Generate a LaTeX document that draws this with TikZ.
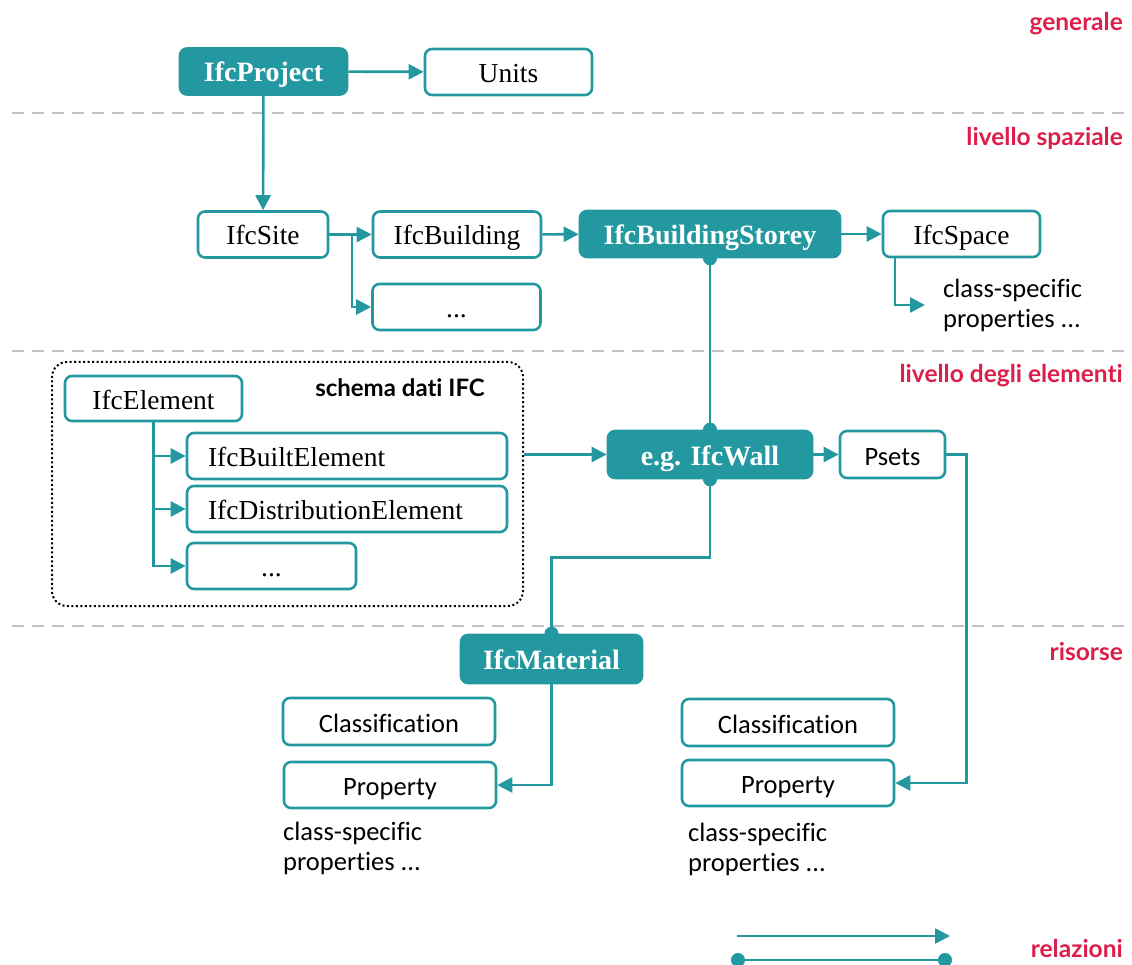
\documentclass[tikz,border=0pt]{standalone}
\usepackage{fontspec}
\setmainfont{Liberation Serif}
\newfontfamily\carlito[RawFeature={-liga;-calt;-clig}]{Carlito}
\newfontfamily\lato[RawFeature={-liga;-calt;-clig}]{Lato}
\usetikzlibrary{arrows.meta}

\definecolor{ifcteal}{RGB}{35,152,160}
\definecolor{lvlred}{RGB}{220,30,75}
\definecolor{sepgray}{RGB}{192,192,192}

\tikzset{
  cls/.style={draw=ifcteal, line width=2.6pt, rounded corners=7pt, fill=white, minimum height=46pt, inner sep=0pt, text height=22pt, text depth=1pt, font=\fontsize{27.5}{32}\selectfont},
  key/.style={cls, fill=ifcteal, text=white, font=\fontsize{28}{32}\selectfont\bfseries},
  res/.style={cls, font=\carlito\fontsize{26.5}{30}\selectfont},
  note/.style={anchor=west, align=left, inner sep=0pt, font=\carlito\fontsize{26.5}{30}\selectfont},
  level/.style={anchor=east, inner sep=0pt, text=lvlred, font=\lato\bfseries\fontsize{24.5}{28}\selectfont},
  rel/.style={draw=ifcteal, line width=2.6pt, -{Triangle[length=15pt,width=15pt]}},
  link/.style={draw=ifcteal, line width=2.6pt, {Circle[length=14pt]}-{Circle[length=14pt]}, shorten <=-7pt, shorten >=-7pt},
  sep/.style={draw=sepgray, line width=2.5pt, dash pattern=on 12pt off 8pt},
}

\begin{document}
\begin{tikzpicture}[x=1pt,y=-1pt]
\useasboundingbox (0,0) rectangle (1132,965);

\draw[sep] (12,113) -- (1125,113);
\draw[sep] (12,351) -- (1125,351);
\draw[sep] (12,626) -- (1125,626);

\node[level] (lgen) at (1123,24) {generale};
\node[level] (lspa) at (1123,138) {livello spaziale};
\node[level] (lele) at (1123,376) {livello degli elementi};
\node[level] (lris) at (1123,652) {risorse};
\node[level] (lrel) at (1123,948) {relazioni};

\node[key, minimum width=167pt] (project) at (263.5,71.5) {IfcProject};
\node[cls, minimum width=167pt] (units) at (508.5,72) {Units};

\node[cls, minimum width=130pt] (site) at (263,234.5) {IfcSite};
\node[cls, minimum width=168pt] (building) at (457,234.5) {IfcBuilding};
\node[cls, minimum width=168pt] (sitemore) at (456.5,307) {...};
\node[key, minimum width=260pt] (storey) at (710,234) {IfcBuildingStorey};
\node[cls, minimum width=157pt] (space) at (961.5,234) {IfcSpace};
\node[note] (spacenote) at (943,305) {class-specific\\properties ...};

\node[draw, line width=2pt, dash pattern=on 2pt off 2.5pt, rounded corners=15pt, minimum width=471pt, minimum height=244pt] (schema) at (287.5,484) {};
\node[font=\lato\bfseries\fontsize{24}{28}\selectfont] (schemalabel) at (400,388) {schema dati IFC};
\node[cls, minimum width=177pt, minimum height=45pt] (element) at (153.5,398.5) {IfcElement};
\node[cls, minimum width=320pt, text width=278pt, align=left] (built) at (347,456) {IfcBuiltElement};
\node[cls, minimum width=320pt, text width=278pt, align=left] (distrib) at (347,509) {IfcDistributionElement};
\node[cls, minimum width=169pt] (elemmore) at (271.5,566) {...};

\node[key, minimum width=204pt, minimum height=47pt] (wall) at (710,454.5) {e.g. IfcWall};
\node[res, minimum width=105pt, minimum height=47pt] (psets) at (892.5,454.5) {Psets};

\node[key, minimum width=181pt, minimum height=48pt] (material) at (551.5,659) {IfcMaterial};
\node[res, minimum width=212pt, minimum height=47pt] (class1) at (389,721.5) {Classification};
\node[res, minimum width=212pt] (prop1) at (390,785) {Property};
\node[note] (note1) at (283,848) {class-specific\\properties ...};
\node[res, minimum width=212pt, minimum height=47pt] (class2) at (788,722.5) {Classification};
\node[res, minimum width=212pt] (prop2) at (788,783) {Property};
\node[note] (note2) at (688,849) {class-specific\\properties ...};

\coordinate (sitefork) at (352,234.5);
\coordinate (spacefork) at (895,258);

\draw[rel] (project) -- (units);
\draw[rel] (project) -- (site);
\draw[rel] (site) -- (building);
\draw[rel] (sitefork) |- (sitemore.west);
\draw[rel] (building) -- (storey);
\draw[rel] (storey) -- (space);
\draw[rel, shorten >=18pt] (spacefork) |- (spacenote.west);
\draw[link] (storey.south) -- (wall.north);

\draw[rel] (element.south) |- (built.west);
\draw[rel] (element.south) |- (distrib.west);
\draw[rel] (element.south) |- (elemmore.west);
\draw[rel] (wall.west -| schema.east) -- (wall.west);

\draw[rel] (wall) -- (psets);
\draw[link] (wall.south) -- ++(0,78) -| (material.north);
\draw[rel] (psets.east) -- ++(20,0) |- (prop2.east);
\draw[rel] (material.south) |- (prop1.east);

\coordinate (arrfrom) at (737,936);
\coordinate (arrto) at (950,936);
\coordinate (linkfrom) at (738,960);
\coordinate (linkto) at (945,960);
\draw[rel] (arrfrom) -- (arrto);
\draw[link] (linkfrom) -- (linkto);
\end{tikzpicture}
\end{document}
